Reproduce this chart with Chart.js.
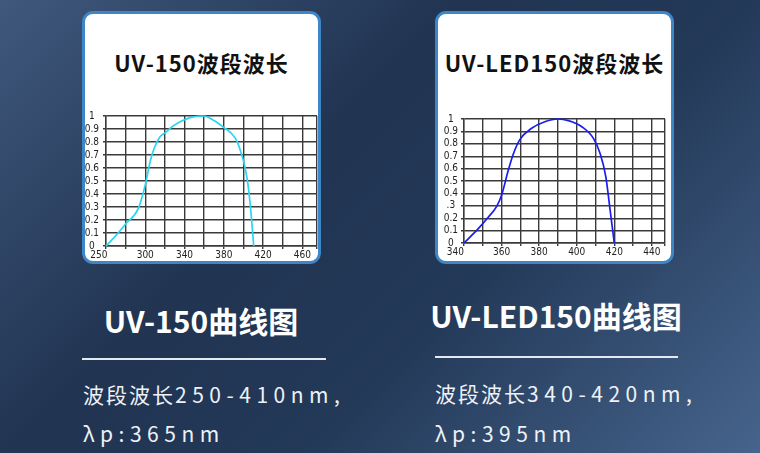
<!DOCTYPE html>
<html lang="zh">
<head>
<meta charset="utf-8">
<title>UV-150 / UV-LED150 波段波长</title>
<script src="https://cdn.jsdelivr.net/npm/chart.js@4.4.1/dist/chart.umd.min.js"></script>
<style>
  html, body { margin: 0; padding: 0; }
  body {
    width: 760px; height: 453px; position: relative; overflow: hidden;
    background: linear-gradient(135deg, #3f587c 0%, #213452 38%, #233958 62%, #46648c 100%);
    font-family: "Noto Sans CJK SC", "Noto Sans", sans-serif;
  }
  .card {
    position: absolute; top: 11px; width: 239px; height: 253px;
    box-sizing: border-box; border: 3.5px solid #3f86c6; border-radius: 11px; background: #fff;
  }
  .card h2 {
    position: absolute; left: 0; right: 0; top: 33px; margin: 0;
    text-align: center; font-size: 22px; font-weight: 700; color: #111;
    letter-spacing: 1px; line-height: 30px; white-space: nowrap;
  }
  canvas { position: absolute; }
  .sub {
    position: absolute; width: 320px; text-align: center; white-space: nowrap;
    font-size: 30px; font-weight: 700; color: #fff; line-height: 36px;
  }
  .rule { position: absolute; height: 2px; background: #e4e9f0; }
  .desc {
    position: absolute; font-size: 21px; color: #eef2f7; line-height: 28px;
    letter-spacing: 2px; white-space: nowrap;
  }
  .desc span { letter-spacing: 5.5px; }
</style>
</head>
<body>

<div class="card" style="left:82px"><h2>UV-150波段波长</h2></div>
<div class="card" style="left:435px"><h2>UV-LED150波段波长</h2></div>

<canvas id="uv150" width="235" height="160" style="left:85px; top:100px"></canvas>
<canvas id="uvled150" width="232" height="160" style="left:438px; top:100px"></canvas>

<div class="sub" style="left:41px; top:302px">UV-150曲线图</div>
<div class="sub" style="left:396px; top:297px">UV-LED150曲线图</div>

<div class="rule" style="left:82px; top:358px; width:244px"></div>
<div class="rule" style="left:435px; top:356px; width:243px"></div>

<div class="desc" style="left:83px; top:380px">波段波长<span>250-410nm,</span></div>
<div class="desc" style="left:83px; top:419px"><span>λp:365nm</span></div>
<div class="desc" style="left:435px; top:379px">波段波长<span>340-420nm,</span></div>
<div class="desc" style="left:435px; top:419px"><span>λp:395nm</span></div>

<script>
// UV-150 曲线 (x 按图中网格读数)
const uv150Nm  = [260, 270, 280, 293, 300, 305, 309, 315, 320, 327, 335.5, 345.5, 356, 360, 369.5, 379.5, 388, 393, 398, 401.5, 405, 407.5, 409.5, 410.5];
const uv150Val = [0, 0.08, 0.17, 0.29, 0.47, 0.65, 0.75, 0.84, 0.87, 0.915, 0.955, 0.987, 1, 1, 0.967, 0.915, 0.864, 0.813, 0.71, 0.61, 0.455, 0.275, 0.095, 0];
const uv150GridX   = [260, 280, 300, 320, 340, 360, 380, 400, 420, 440, 460, 475];
const uv150LabelsX = ["250     ", "", "300", "", "340", "", "380", "", "420", "", "460", ""];

// UV-LED150 曲线
const ledNm  = [340, 347.6, 353, 357.4, 360, 363.6, 366.3, 369.8, 376, 383, 390, 395.6, 402.7, 408.9, 412.5, 415.5, 417.8, 420];
const ledVal = [0, 0.116, 0.21, 0.296, 0.385, 0.588, 0.72, 0.836, 0.925, 0.978, 1, 0.987, 0.938, 0.844, 0.72, 0.534, 0.264, 0];
const ledGridX   = [340, 350, 360, 370, 380, 390, 400, 410, 420, 430, 440, 447];
const ledLabelsX = ["340      ", "", "360", "", "380", "", "400", "", "420", "", "440", ""];

const gridY = [0, 0.1, 0.2, 0.3, 0.4, 0.5, 0.6, 0.7, 0.8, 0.9, 1];
const uv150LabelsY = ["0", "0.1", "0.2", "0.3", "0.4", "0.5", "0.6", "0.7", "0.8", "0.9", "1"];
const ledLabelsY   = ["0", "0.1", "0.2", ".3", "0.4", "0.5", "0.6", "0.7", "0.8", "0.9", "1"];

const tickFont = { family: '"Liberation Sans Narrow", "DejaVu Sans Condensed", sans-serif', size: 10 };
const gridColor = "#3a3a3a";

function dibujarCurva(id, nm, val, color, gx, lx, ly, cfg) {
  const ctx = document.getElementById(id).getContext("2d");
  new Chart(ctx, {
    type: "line",
    data: {
      datasets: [{
        data: nm.map((x, i) => ({ x: x, y: val[i] })),
        borderColor: color,
        borderWidth: 1.7,
        pointRadius: 0,
        cubicInterpolationMode: "monotone",
        fill: false,
        clip: 3
      }]
    },
    options: {
      responsive: false,
      animation: false,
      layout: { padding: { left: 0, top: cfg.top, right: cfg.right, bottom: 0 } },
      plugins: { legend: { display: false }, tooltip: { enabled: false } },
      scales: {
        x: {
          type: "linear",
          min: gx[0],
          max: gx[gx.length - 1],
          afterBuildTicks: a => { a.ticks = gx.map(v => ({ value: v })); },
          afterFit: s => { s.height = cfg.xh; },
          grid: { color: gridColor, lineWidth: 1.4, tickLength: 3 },
          border: { color: gridColor, width: 1.4 },
          ticks: {
            autoSkip: false, maxRotation: 0, padding: 0, color: "#222", font: tickFont,
            callback: (v, i) => lx[i]
          }
        },
        y: {
          min: 0,
          max: 1,
          afterBuildTicks: a => { a.ticks = gridY.map(v => ({ value: v })); },
          afterFit: s => { s.width = cfg.yw; },
          grid: { color: gridColor, lineWidth: 1.4, tickLength: 3 },
          border: { color: gridColor, width: 1.4 },
          ticks: {
            autoSkip: false, crossAlign: "center", padding: cfg.ypad, color: "#222", font: tickFont,
            callback: (v, i) => ly[i]
          }
        }
      }
    }
  });
}

dibujarCurva("uv150", uv150Nm, uv150Val, "#2ad6ef", uv150GridX, uv150LabelsX, uv150LabelsY,
  { top: 16, right: 3, xh: 14, yw: 21, ypad: 4 });
dibujarCurva("uvled150", ledNm, ledVal, "#1a1cf2", ledGridX, ledLabelsX, ledLabelsY,
  { top: 19, right: 5, xh: 17, yw: 26, ypad: 3 });
</script>
</body>
</html>
